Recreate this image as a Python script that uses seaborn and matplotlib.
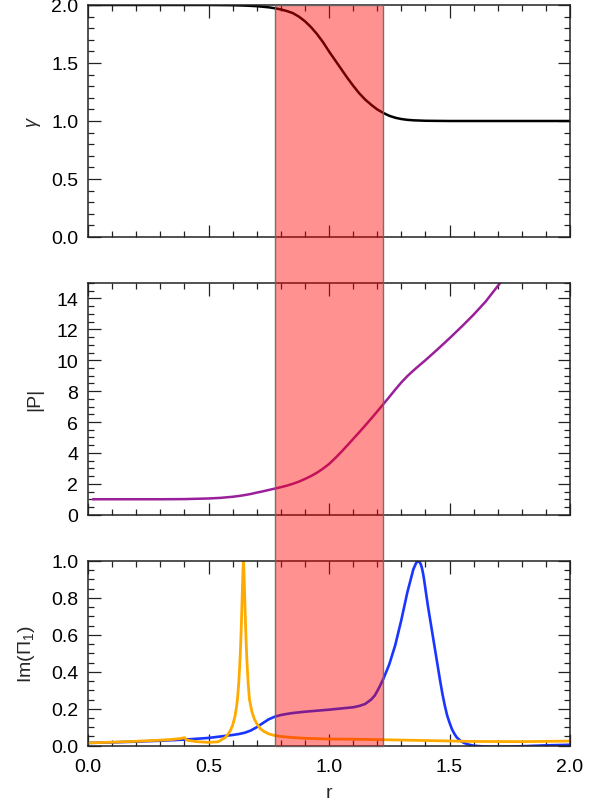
import numpy as np
import pandas as pd
import matplotlib
matplotlib.use('Agg')
import matplotlib.pyplot as plt
import seaborn as sns
from matplotlib.patches import Rectangle
from matplotlib.ticker import MultipleLocator
import matplotlib.transforms as mtransforms

# ---------------- data ----------------
r_gamma = [0.0, 0.2, 0.4, 0.5, 0.6, 0.65, 0.7, 0.75, 0.775, 0.8, 0.825, 0.85, 0.875,
           0.9, 0.925, 0.95, 0.975, 1.0, 1.025, 1.05, 1.075, 1.1, 1.125, 1.15, 1.175,
           1.2, 1.225, 1.25, 1.275, 1.3, 1.325, 1.35, 1.4, 1.5, 1.7, 2.0]
gamma = [2.0, 2.0, 2.0, 2.0, 1.998, 1.995, 1.99, 1.98, 1.972, 1.962, 1.948, 1.93, 1.90,
         1.86, 1.81, 1.75, 1.68, 1.60, 1.525, 1.45, 1.375, 1.305, 1.24, 1.185, 1.14,
         1.10, 1.07, 1.045, 1.028, 1.017, 1.01, 1.006, 1.002, 1.0, 1.0, 1.0]

r_p = [0.02, 0.1, 0.2, 0.3, 0.4, 0.45, 0.5, 0.55, 0.6, 0.625, 0.65, 0.675, 0.7, 0.725,
       0.75, 0.775, 0.8, 0.825, 0.85, 0.875, 0.9, 0.925, 0.95, 0.975, 1.0, 1.025, 1.05,
       1.075, 1.1, 1.125, 1.15, 1.175, 1.2, 1.225, 1.25, 1.275, 1.3, 1.325, 1.35, 1.375,
       1.4, 1.45, 1.5, 1.55, 1.6, 1.65, 1.71]
p_abs = [1.0, 1.0, 1.0, 1.0, 1.01, 1.03, 1.05, 1.09, 1.16, 1.21, 1.27, 1.34, 1.43, 1.51,
         1.60, 1.69, 1.78, 1.88, 2.0, 2.14, 2.31, 2.50, 2.72, 2.98, 3.28, 3.65, 4.05,
         4.47, 4.90, 5.33, 5.77, 6.22, 6.68, 7.15, 7.62, 8.10, 8.56, 8.97, 9.33, 9.67,
         10.0, 10.70, 11.42, 12.17, 12.95, 13.8, 15.0]

r_blue = [0.0, 0.1, 0.2, 0.3, 0.4, 0.5, 0.6, 0.625, 0.65, 0.675, 0.7, 0.725, 0.75,
          0.775, 0.8, 0.825, 0.85, 0.9, 1.0, 1.1, 1.125, 1.15, 1.175, 1.19, 1.2, 1.21,
          1.225, 1.25, 1.275, 1.3, 1.325, 1.345, 1.35, 1.355, 1.36, 1.365, 1.37, 1.375,
          1.38, 1.385, 1.39, 1.395, 1.40, 1.41, 1.42, 1.43, 1.44, 1.45, 1.46, 1.47,
          1.48, 1.49, 1.50, 1.51, 1.52, 1.53, 1.545, 1.56, 1.58, 1.6, 1.65, 1.7, 1.8,
          1.9, 2.0]
im_blue = [0.015, 0.018, 0.022, 0.027, 0.033, 0.042, 0.058, 0.063, 0.07, 0.082, 0.10,
           0.122, 0.143, 0.157, 0.166, 0.172, 0.177, 0.184, 0.195, 0.208, 0.215, 0.226,
           0.25, 0.272, 0.295, 0.32, 0.36, 0.44, 0.545, 0.68, 0.83, 0.93, 0.955, 0.97,
           0.985, 0.996, 1.0, 0.996, 0.985, 0.965, 0.935, 0.895, 0.85, 0.76, 0.68, 0.60,
           0.52, 0.44, 0.36, 0.285, 0.22, 0.165, 0.125, 0.09, 0.065, 0.045, 0.027,
           0.015, 0.006, 0.0, -0.005, -0.006, -0.003, 0.002, 0.005]

r_orange = [0.0, 0.1, 0.2, 0.3, 0.35, 0.39, 0.40, 0.41, 0.45, 0.5, 0.54, 0.57, 0.58,
            0.59, 0.60, 0.61, 0.615, 0.62, 0.625, 0.629, 0.632, 0.636, 0.64, 0.643,
            0.645, 0.647, 0.650, 0.654, 0.658, 0.661, 0.665, 0.67, 0.68, 0.69, 0.70,
            0.715, 0.73, 0.75, 0.775, 0.8, 0.85, 0.9, 1.0, 1.1, 1.2, 1.4, 1.6, 1.8, 2.0]
im_orange = [0.015, 0.019, 0.024, 0.03, 0.034, 0.04, 0.044, 0.03, 0.022, 0.018, 0.021,
             0.045, 0.06, 0.08, 0.11, 0.16, 0.2, 0.25, 0.33, 0.42, 0.5, 0.64, 0.82,
             0.95, 1.0, 0.95, 0.82, 0.64, 0.5, 0.42, 0.33, 0.25, 0.185, 0.145, 0.12,
             0.092, 0.077, 0.064, 0.055, 0.05, 0.044, 0.04, 0.036, 0.035, 0.033, 0.028,
             0.023, 0.022, 0.025]

band_r = [0.776, 1.223]

# ---------------- style ----------------
sns.set_style('white')
plt.rcParams['font.family'] = ['Liberation Sans', 'DejaVu Sans']
plt.rcParams['mathtext.fontset'] = 'custom'
plt.rcParams['mathtext.rm'] = 'Liberation Sans'
plt.rcParams['mathtext.it'] = 'Liberation Sans:italic'
plt.rcParams['mathtext.bf'] = 'Liberation Sans:bold'

FS = 14
fig = plt.figure(figsize=(6.02, 8.04), dpi=100)
L = 88 / 602
W = 482 / 602
ax1 = fig.add_axes([L, 1 - 238 / 804, W, 232 / 804])
ax2 = fig.add_axes([L, 1 - 515.7 / 804, W, 231.7 / 804])
ax3 = fig.add_axes([L, 1 - 746.7 / 804, W, 184.7 / 804])

df_g = pd.DataFrame({'r': r_gamma, 'gamma': gamma})
df_p = pd.DataFrame({'r': r_p, 'P': p_abs})
df_b = pd.DataFrame({'r': r_blue, 'im': im_blue})
df_o = pd.DataFrame({'r': r_orange, 'im': im_orange})

sns.lineplot(data=df_g, x='r', y='gamma', ax=ax1, color='black', lw=1.8)
sns.lineplot(data=df_p, x='r', y='P', ax=ax2, color='#9a1f9a', lw=1.8)
sns.lineplot(data=df_b, x='r', y='im', ax=ax3, color='#1a35ff', lw=1.9)
sns.lineplot(data=df_o, x='r', y='im', ax=ax3, color='#ffaa00', lw=2.0)


def style(ax, ymax, ymaj, ymin_, xlabels):
    ax.set_xlim(0, 2)
    ax.set_ylim(0, ymax)
    ax.xaxis.set_major_locator(MultipleLocator(0.5))
    ax.xaxis.set_minor_locator(MultipleLocator(0.1))
    ax.yaxis.set_major_locator(MultipleLocator(ymaj))
    ax.yaxis.set_minor_locator(MultipleLocator(ymin_))
    ax.tick_params(which='both', direction='in', top=True, right=True,
                   bottom=True, left=True,
                   color='#222222', labelcolor='black', labelsize=FS)
    ax.tick_params(which='major', length=9, width=0.9)
    ax.tick_params(which='minor', length=4.5, width=0.9)
    ax.tick_params(axis='y', pad=7)
    ax.tick_params(axis='x', pad=9)
    if not xlabels:
        ax.tick_params(labelbottom=False)
        ax.set_xlabel('')
    for s in ax.spines.values():
        s.set_linewidth(1.1)
        s.set_color('#222222')


style(ax1, 2.0, 0.5, 0.1, False)
style(ax2, 15, 2, 0.5, False)
style(ax3, 1.0, 0.2, 0.05, True)

ax1.set_ylabel(r'$\gamma$', fontsize=13)
ax2.set_ylabel('|P|', fontsize=FS)
ax3.set_ylabel(r'Im($\Pi_1$)', fontsize=FS)
ax1.yaxis.set_label_coords(-0.094, 0.5)
ax2.yaxis.set_label_coords(-0.092, 0.5)
ax3.yaxis.set_label_coords(-0.106, 0.5)
ax3.set_xlabel('r', fontsize=FS, labelpad=6)

# shaded band spanning all three panels
trans = mtransforms.blended_transform_factory(ax3.transData, fig.transFigure)
rect = Rectangle((band_r[0], 1 - 747 / 804), band_r[1] - band_r[0], (747 - 6) / 804,
                 transform=trans, facecolor=(1, 0, 0, 0.43),
                 edgecolor=(0.4, 0.4, 0.4, 0.9), lw=1.0, zorder=10)
fig.add_artist(rect)

fig.savefig('out.png', dpi=100)
